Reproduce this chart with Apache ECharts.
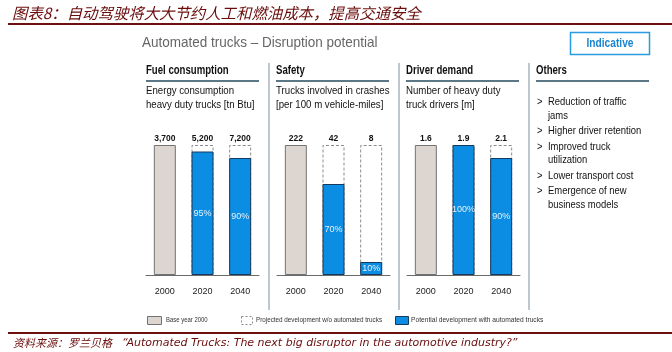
<!DOCTYPE html>
<html>
<head>
<meta charset="utf-8">
<script src="https://cdn.jsdelivr.net/npm/echarts@6/dist/echarts.min.js"></script>
<style>
  html, body { margin: 0; padding: 0; background: #fff; }
  #chart { width: 672px; height: 352px; }
</style>
</head>
<body>
<div id="chart"></div>
<script>
// years on every panel
const categories = ['2000', '2020', '2040']

// numbers printed on top of the bars
const fuelLabels = ['3,700', '5,200', '7,200']
const safetyLabels = ['222', '42', '8']
const driverLabels = ['1.6', '1.9', '2.1']

// bar heights, every bar is drawn as share of its own total
const baseShare = [100, '-', '-']
const projectedShare = ['-', 100, 100]
const fuelShare = ['-', 95, 90]
const safetyShare = ['-', 70, 10]
const driverShare = ['-', 100, 90]

const panelTitles = ['Fuel consumption', 'Safety', 'Driver demand', 'Others']
const panelSubtitles = [
    ['Energy consumption', 'heavy duty trucks [tn Btu]'],
    ['Trucks involved in crashes', '[per 100 m vehicle-miles]'],
    ['Number of heavy duty', 'truck drivers [m]']
]
const othersList = [
    ['Reduction of traffic', 'jams'],
    ['Higher driver retention'],
    ['Improved truck', 'utilization'],
    ['Lower transport cost'],
    ['Emergence of new', 'business models']
]
const legendNames = ['Base year 2000', 'Projected development w/o automated trucks', 'Potential development with automated trucks']

const SANS = "'Liberation Sans', Arial, sans-serif"
const DARKRED = '#6a0c0c'
const BLUE = '#0a8de3'

let chartDom = document.getElementById('chart')
let myChart = echarts.init(chartDom, null, {width: 672, height: 352})

// text drawn squeezed horizontally, the original uses a narrow face
function txt(x, y, text, font, fill, align, sx) {
    return {
        type: 'text', silent: true,
        x: x, y: y, scaleX: sx || 1, scaleY: 1,
        style: {
            x: 0, y: 0, text: text, font: font, fill: fill,
            align: align || 'left', textAlign: align || 'left',
            verticalAlign: 'middle', textVerticalAlign: 'middle'
        }
    }
}

function line(x1, y1, x2, y2, color, width) {
    return {
        type: 'line', silent: true,
        shape: {x1: x1, y1: y1, x2: x2, y2: y2},
        style: {stroke: color, lineWidth: width}
    }
}

const panels = [
    {left: 146, labels: fuelLabels, share: fuelShare},
    {left: 277, labels: safetyLabels, share: safetyShare},
    {left: 407, labels: driverLabels, share: driverShare}
]

let grids = []
let xAxes = []
let yAxes = []
let series = []
panels.forEach((p, i) => {
    grids.push({left: p.left, top: 145, width: 113, height: 130})
    xAxes.push({
        type: 'category', gridIndex: i, data: categories,
        axisTick: {show: false},
        axisLine: {lineStyle: {color: '#6a6a6a', width: 1}},
        axisLabel: {margin: 12, fontFamily: SANS, fontSize: 9, color: '#222'}
    })
    yAxes.push({type: 'value', gridIndex: i, min: 0, max: 100, show: false})
    let topLabel = {
        show: true, position: 'top', distance: 2,
        fontFamily: SANS, fontSize: 8.5, fontWeight: 'bold', color: '#111',
        formatter: (d) => p.labels[d.dataIndex]
    }
    series.push({
        type: 'bar', xAxisIndex: i, yAxisIndex: i, data: baseShare,
        barWidth: 22, barGap: '-100%', silent: true,
        itemStyle: {color: '#ddd5d0', borderColor: '#737373', borderWidth: 1},
        label: topLabel
    })
    series.push({
        type: 'bar', xAxisIndex: i, yAxisIndex: i, data: projectedShare,
        barWidth: 22, barGap: '-100%', silent: true,
        itemStyle: {color: '#ffffff', borderColor: '#8c8c8c', borderWidth: 1, borderType: [3, 2]},
        label: topLabel
    })
    series.push({
        type: 'bar', xAxisIndex: i, yAxisIndex: i, data: p.share,
        barWidth: 22, barGap: '-100%', silent: true,
        itemStyle: {color: BLUE, borderColor: '#173a5c', borderWidth: 1},
        label: {
            show: true, position: 'inside', formatter: '{c}%',
            fontFamily: SANS, fontSize: 9, color: '#e6f1fb'
        }
    })
})

let graphics = []
// top title and rule
graphics.push(txt(12, 13, '图表8：自动驾驶将大大节约人工和燃油成本，提高交通安全',
    "italic 15.4px 'Noto Sans CJK SC'", DARKRED))
graphics.push(line(8, 24, 672, 24, '#6e0f10', 2))
graphics.push(txt(142, 43, 'Automated trucks – Disruption potential', '15px ' + SANS, '#666', 'left', 0.9))
graphics.push({
    type: 'rect', silent: true,
    shape: {x: 570.5, y: 32.5, width: 79, height: 22},
    style: {fill: '#fff', stroke: '#2a9be0', lineWidth: 1.5}
})
graphics.push(txt(610, 43.5, 'Indicative', 'bold 12px ' + SANS, '#1b86cf', 'center', 0.85))

// panel headers
const headerX = [146, 276, 406, 536]
headerX.forEach((x, i) => {
    graphics.push(txt(x, 71, panelTitles[i], 'bold 12px ' + SANS, '#111', 'left', 0.8))
    graphics.push(line(x, 81, x + 113, 81, '#264a5c', 1.5))
    if (i < 3) {
        graphics.push(txt(x, 91, panelSubtitles[i][0], '11.5px ' + SANS, '#111', 'left', 0.84))
        graphics.push(txt(x, 105, panelSubtitles[i][1], '11.5px ' + SANS, '#111', 'left', 0.84))
    }
})
// separators
;[269, 399, 529].forEach(x => {
    graphics.push(line(x, 63, x, 310, '#a9b5be', 1.5))
})

// others list
let yy = 102
othersList.forEach(item => {
    graphics.push(txt(537, yy, '>', '11.5px ' + SANS, '#111', 'left', 0.82))
    item.forEach(t => {
        graphics.push(txt(548, yy, t, '11.5px ' + SANS, '#111', 'left', 0.82))
        yy += 13.5
    })
    yy += 2
})

// legend
graphics.push({type: 'rect', silent: true, shape: {x: 147.5, y: 316.5, width: 14, height: 8},
    style: {fill: '#ddd5d0', stroke: '#737373', lineWidth: 1}})
graphics.push(txt(166, 320.5, legendNames[0], '7px ' + SANS, '#333', 'left', 0.85))
graphics.push({type: 'rect', silent: true, shape: {x: 241.5, y: 316.5, width: 11, height: 8},
    style: {fill: '#fff', stroke: '#8c8c8c', lineWidth: 1, lineDash: [2, 2]}})
graphics.push(txt(256, 320.5, legendNames[1], '7px ' + SANS, '#333', 'left', 0.9))
graphics.push({type: 'rect', silent: true, shape: {x: 395.5, y: 316.5, width: 13, height: 8},
    style: {fill: BLUE, stroke: '#173a5c', lineWidth: 1}})
graphics.push(txt(411, 320.5, legendNames[2], '7px ' + SANS, '#333', 'left', 0.95))

// footer
graphics.push(line(8, 333, 672, 333, '#6e0f10', 2))
graphics.push(txt(13, 343, '资料来源：罗兰贝格', "italic 11px 'Noto Sans CJK SC'", DARKRED))
graphics.push(txt(122, 343, '“Automated Trucks: The next big disruptor in the automotive industry?”',
    "italic 11px 'DejaVu Sans'", DARKRED))

let option = {
    animation: false,
    backgroundColor: '#fff',
    grid: grids,
    xAxis: xAxes,
    yAxis: yAxes,
    series: series,
    graphic: {elements: graphics}
}
myChart.setOption(option)
</script>
</body>
</html>
